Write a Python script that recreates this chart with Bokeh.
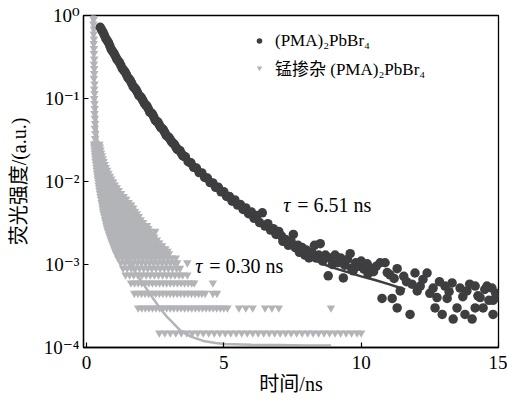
from bokeh.plotting import figure
from bokeh.models import (Range1d, FixedTicker, CustomJSTickFormatter, Label,
                          Legend, LegendItem)
from bokeh.embed import file_html
from bokeh.resources import INLINE

# ---------------- data ----------------
# (PMA)2PbBr4 : measured decay (time / ns, normalised intensity)
pma_x = [0.5, 0.55, 0.6, 0.65, 0.7, 0.75, 0.8, 0.85, 0.9, 0.95, 1.0, 1.05, 1.1, 1.15,
         1.2, 1.25, 1.3, 1.35, 1.4, 1.45, 1.5, 1.55, 1.6, 1.65, 1.7, 1.75, 1.8, 1.85,
         1.9, 1.95, 2.0, 2.05, 2.1, 2.15, 2.2, 2.25, 2.3, 2.35, 2.4, 2.45, 2.5, 2.55,
         2.6, 2.65, 2.7, 2.75, 2.8, 2.85, 2.9, 2.95, 3.0, 3.05, 3.1, 3.15, 3.2, 3.25,
         3.3, 3.35, 3.4, 3.45, 3.5, 3.55, 3.6, 3.7, 3.8, 3.9, 4.0, 4.1, 4.2, 4.3, 4.4,
         4.5, 4.6, 4.7, 4.8, 4.9, 5.0, 5.1, 5.2, 5.3, 5.4, 5.5, 5.6, 5.7, 5.8, 5.9,
         6.0, 6.1, 6.2, 6.3, 6.4, 6.5, 6.6, 6.7, 6.8, 6.9, 7.0,
         7.1, 7.15, 7.25, 7.35, 7.45, 7.53, 7.6, 7.7, 7.75, 7.85, 7.95, 8.0, 8.1, 8.2,
         8.3, 8.35, 8.45, 8.51, 8.6, 8.7, 8.8, 8.85, 8.95, 9.05, 9.15, 9.25, 9.35, 9.4,
         9.5, 9.6, 9.65, 9.71, 9.8, 9.9, 10.0, 10.1, 10.22, 10.25, 10.35, 10.45, 10.55,
         10.69, 10.76, 10.87, 10.95, 11.05, 11.13, 11.2, 11.31, 11.31, 11.42,
         11.55, 11.65, 11.78, 11.85, 11.96, 12.04, 12.15, 12.25, 12.4, 12.5, 12.62,
         12.69, 12.76, 12.85, 12.95, 13.05, 13.13, 13.2, 13.31, 13.35, 13.49, 13.6,
         13.7, 13.78, 13.85, 13.95, 14.04, 14.15, 14.15, 14.25, 14.33, 14.44, 14.5,
         14.58, 14.65, 14.76, 14.8, 14.8, 14.9, 15.0]
pma_y = [0.72, 0.67, 0.63, 0.58, 0.53, 0.50, 0.47, 0.43, 0.39, 0.37, 0.35, 0.325, 0.30,
         0.285, 0.27, 0.25, 0.23, 0.22, 0.21, 0.195, 0.18, 0.172, 0.163, 0.151, 0.139,
         0.134, 0.128, 0.119, 0.110, 0.106, 0.102, 0.095, 0.088, 0.084, 0.081, 0.075,
         0.069, 0.067, 0.065, 0.060, 0.055, 0.053, 0.052, 0.048, 0.045, 0.0435, 0.042,
         0.039, 0.036, 0.035, 0.034, 0.032, 0.030, 0.029, 0.028, 0.0262, 0.0245, 0.024,
         0.0235, 0.0219, 0.0205, 0.0201, 0.0198, 0.0173, 0.0168, 0.0148, 0.0145, 0.0128,
         0.0127, 0.0112, 0.0110, 0.0097, 0.0096, 0.0085, 0.0085, 0.0075, 0.0075, 0.0066,
         0.0066, 0.0058, 0.0060, 0.0052, 0.0053, 0.0046, 0.0048, 0.0041, 0.0043, 0.0036,
         0.0039, 0.0032, 0.0042, 0.0029, 0.0031, 0.0026, 0.0027, 0.0023, 0.0025,
         0.0022, 0.0019, 0.0020, 0.0017, 0.0019, 0.0023, 0.0016, 0.0017, 0.0014, 0.0016,
         0.0013, 0.0015, 0.0012, 0.0014, 0.0017, 0.0012, 0.0013, 0.00178, 0.0011, 0.0013,
         0.00073, 0.0012, 0.0010, 0.0013, 0.00105, 0.0012, 0.00069, 0.00098, 0.00115,
         0.00135, 0.0009, 0.00084, 0.00105, 0.00095, 0.0011, 0.00088, 0.00102, 0.00077,
         0.0009, 0.00082, 0.00095, 0.00105, 0.00039, 0.00105, 0.0008, 0.00075, 0.00039,
         0.00068, 0.00089, 0.00030, 0.00048,
         0.00072, 0.00062, 0.00025, 0.00058, 0.00079, 0.00048, 0.00055, 0.00066, 0.00079,
         0.00045, 0.00052, 0.0003, 0.0004, 0.00062, 0.00025, 0.00055, 0.00039, 0.00047,
         0.0006, 0.00022, 0.0003, 0.00052, 0.00041, 0.00025, 0.00048, 0.00058, 0.00022,
         0.00055, 0.0003, 0.00042, 0.0004, 0.0003, 0.0005, 0.00055, 0.00037, 0.00052,
         0.00025, 0.00037, 0.00045, 0.0004]

# (PMA)2PbBr4 : fitted curve (tau = 6.51 ns)
pma_fit_x = [0.5, 0.9, 1.3, 1.7, 2.1, 2.5, 2.9, 3.3, 3.7, 4.1, 4.5, 4.9, 5.3, 5.7,
             6.1, 6.5, 6.9, 7.3, 7.7, 8.1, 8.5, 8.9, 9.5, 10.0, 10.5, 11.0, 11.6]
pma_fit_y = [0.724, 0.398, 0.234, 0.141, 0.089, 0.0562, 0.0372, 0.0251, 0.0178,
             0.0132, 0.0100, 0.00776, 0.00603, 0.00479, 0.0038, 0.00302, 0.0024,
             0.00191, 0.00151, 0.00123, 0.00105, 0.00093, 0.00081, 0.00072, 0.00065,
             0.00058, 0.00050]

# Mn-doped (PMA)2PbBr4 : early, steep part of the decay
mn_col_x = [0.24, 0.25, 0.26, 0.25, 0.27, 0.26, 0.27, 0.26, 0.27, 0.27, 0.28, 0.27, 0.28,
            0.28, 0.27, 0.29, 0.28, 0.29, 0.28, 0.29, 0.30, 0.29, 0.30, 0.31, 0.30, 0.32,
            0.31, 0.33, 0.34]
mn_col_y = [1.15, 1.02, 0.90, 0.79, 0.69, 0.60, 0.52, 0.46, 0.40, 0.35, 0.30, 0.26, 0.23,
            0.20, 0.175, 0.15, 0.13, 0.115, 0.10, 0.087, 0.076, 0.066, 0.058, 0.05, 0.044,
            0.038, 0.033, 0.029, 0.026]

# Mn-doped (PMA)2PbBr4 : later part, one intensity per row
mn_row_y = [0.0282, 0.026, 0.024, 0.0221, 0.0204, 0.0188, 0.0174, 0.016, 0.0148, 0.0137,
            0.0126, 0.0116, 0.0107, 0.0099, 0.0091, 0.0084, 0.0078, 0.0072, 0.0066,
            0.0061, 0.0056, 0.0052, 0.0048, 0.0044, 0.0041, 0.0038, 0.00347, 0.0032,
            0.00295, 0.00272, 0.00251, 0.00232, 0.00214, 0.00197, 0.00182, 0.00168,
            0.00155, 0.00145, 0.00135, 0.0012, 0.00105, 0.0009, 0.00075, 0.0006, 0.00045,
            0.0003, 0.00015]
mn_row_x = [
    [0.27, 0.34, 0.41, 0.47],
    [0.28, 0.36, 0.43, 0.49],
    [0.29, 0.36, 0.44, 0.51],
    [0.30, 0.38, 0.46, 0.53],
    [0.31, 0.39, 0.47, 0.56],
    [0.32, 0.41, 0.50, 0.59],
    [0.33, 0.43, 0.52, 0.62],
    [0.35, 0.44, 0.53, 0.62, 0.66],
    [0.36, 0.45, 0.54, 0.62, 0.70],
    [0.37, 0.47, 0.57, 0.66, 0.75],
    [0.38, 0.48, 0.59, 0.69, 0.80],
    [0.40, 0.50, 0.60, 0.70, 0.80, 0.85],
    [0.41, 0.51, 0.61, 0.71, 0.81, 0.90],
    [0.43, 0.53, 0.63, 0.73, 0.83, 0.93, 0.97],
    [0.44, 0.54, 0.64, 0.74, 0.84, 0.94, 1.03],
    [0.46, 0.56, 0.66, 0.76, 0.86, 0.96, 1.06, 1.10],
    [0.47, 0.57, 0.67, 0.77, 0.87, 0.97, 1.07, 1.17],
    [0.49, 0.59, 0.69, 0.79, 0.89, 0.99, 1.09, 1.19, 1.26],
    [0.51, 0.61, 0.71, 0.81, 0.91, 1.01, 1.11, 1.21, 1.30, 1.35],
    [0.53, 0.64, 0.75, 0.86, 0.97, 1.08, 1.19, 1.30, 1.40, 1.44],
    [0.55, 0.66, 0.77, 0.88, 0.99, 1.10, 1.21, 1.32, 1.43, 1.53],
    [0.57, 0.68, 0.79, 0.90, 1.01, 1.12, 1.23, 1.34, 1.45, 1.56, 1.62],
    [0.58, 0.70, 0.82, 0.94, 1.06, 1.18, 1.30, 1.42, 1.54, 1.62, 1.70],
    [0.60, 0.72, 0.84, 0.96, 1.08, 1.20, 1.32, 1.44, 1.56, 1.68, 1.76],
    [0.62, 0.74, 0.86, 0.98, 1.10, 1.22, 1.34, 1.46, 1.58, 1.70, 1.83],
    [0.65, 0.77, 0.89, 1.01, 1.13, 1.25, 1.37, 1.49, 1.61, 1.73, 1.85, 1.90],
    [0.67, 0.80, 0.93, 1.06, 1.19, 1.32, 1.45, 1.58, 1.71, 1.84, 1.97],
    [0.70, 0.83, 0.96, 1.09, 1.22, 1.35, 1.48, 1.61, 1.74, 1.87, 1.98, 2.06],
    [0.72, 0.85, 0.98, 1.11, 1.24, 1.37, 1.50, 1.63, 1.76, 1.89, 2.01, 2.13, 2.20],
    [0.75, 0.88, 1.01, 1.14, 1.27, 1.40, 1.53, 1.66, 1.79, 1.92, 2.05, 2.15, 2.25],
    [0.78, 0.91, 1.04, 1.17, 1.30, 1.43, 1.56, 1.69, 1.82, 1.95, 2.08, 2.20, 2.30, 2.50],
    [0.82, 0.95, 1.08, 1.21, 1.34, 1.47, 1.60, 1.73, 1.86, 1.99, 2.12, 2.25, 2.35, 2.42],
    [0.85, 0.98, 1.11, 1.24, 1.37, 1.50, 1.63, 1.76, 1.89, 2.02, 2.15, 2.28, 2.38, 2.47],
    [0.89, 1.02, 1.15, 1.28, 1.41, 1.54, 1.67, 1.80, 1.93, 2.06, 2.19, 2.32, 2.45, 2.56],
    [0.93, 1.06, 1.19, 1.32, 1.45, 1.58, 1.71, 1.84, 1.97, 2.10, 2.23, 2.36, 2.49, 2.58,
     2.65],
    [0.97, 1.10, 1.23, 1.36, 1.49, 1.62, 1.75, 1.88, 2.01, 2.14, 2.27, 2.40, 2.53, 2.66,
     2.75],
    [1.01, 1.14, 1.27, 1.40, 1.53, 1.66, 1.79, 1.92, 2.05, 2.18, 2.31, 2.44, 2.57, 2.70,
     2.78, 2.87],
    [1.05, 1.18, 1.31, 1.44, 1.57, 1.70, 1.83, 1.96, 2.09, 2.22, 2.35, 2.48, 2.61, 2.74,
     2.85, 2.95],
    [1.08, 1.21, 1.34, 1.47, 1.60, 1.73, 1.86, 1.99, 2.12, 2.25, 2.38, 2.51, 2.64, 2.77,
     2.90, 3.00],
    [1.15, 1.30, 1.45, 1.60, 1.75, 1.90, 2.05, 2.20, 2.35, 2.50, 2.65, 2.80, 2.95, 3.10,
     3.25],
    [1.25, 1.40, 1.55, 1.70, 1.85, 2.00, 2.15, 2.30, 2.45, 2.60, 2.75, 2.90, 3.05, 3.20,
     3.30, 3.67],
    [1.33, 1.48, 1.63, 1.78, 1.93, 2.08, 2.23, 2.38, 2.53, 2.68, 2.83, 2.98, 3.13, 3.28,
     3.40],
    [1.42, 1.57, 1.72, 1.87, 2.02, 2.17, 2.32, 2.47, 2.62, 2.77, 2.92, 3.07, 3.22, 3.37,
     3.50, 3.67],
    [1.62, 1.75, 1.88, 2.01, 2.14, 2.27, 2.40, 2.53, 2.66, 2.79, 2.92, 3.05, 3.18, 3.31,
     3.44, 3.57, 3.70, 3.83, 3.92, 4.60],
    [1.74, 1.87, 2.00, 2.13, 2.26, 2.39, 2.52, 2.65, 2.78, 2.91, 3.04, 3.17, 3.30, 3.43,
     3.56, 3.69, 3.82, 3.95, 4.08, 4.20, 4.32, 4.60, 4.75],
    [1.88, 2.01, 2.14, 2.27, 2.40, 2.53, 2.66, 2.79, 2.92, 3.05, 3.18, 3.31, 3.44, 3.57,
     3.70, 3.83, 3.96, 4.09, 4.22, 4.35, 4.48, 4.61, 4.74, 4.87, 5.00, 5.13, 5.55, 5.80,
     6.05, 6.50, 6.75, 7.00, 8.90],
    [2.65, 2.85, 3.05, 3.25, 3.45, 3.65, 3.85, 4.05, 4.25, 4.45, 4.65, 4.85, 5.05, 5.25,
     5.45, 5.65, 5.85, 6.05, 6.25, 6.45, 6.65, 6.85, 7.05, 7.25, 7.45, 7.65, 7.85, 8.05,
     8.25, 8.45, 8.65, 8.85, 9.05, 9.25, 9.45, 9.65, 9.85, 10.0],
]

# Mn-doped (PMA)2PbBr4 : fitted curve (tau = 0.30 ns)
mn_fit_x = [0.22, 0.3, 0.4, 0.5, 0.7, 1.0, 1.4, 1.8, 2.1, 2.4, 2.7, 2.95, 3.2, 3.42,
            3.8, 4.25, 4.7, 5.05, 6.0, 7.0, 8.0, 8.9]
mn_fit_y = [1.0, 0.12, 0.03, 0.012, 0.005, 0.0025, 0.0013, 0.00078, 0.00056, 0.00040,
            0.00029, 0.00023, 0.00019, 0.00016, 0.000135, 0.00012, 0.000113, 0.00011,
            0.000108, 0.000107, 0.000106, 0.000106]

x_ticks = [0, 5, 10, 15]
y_ticks = [1e-4, 1e-3, 1e-2, 1e-1, 1]
series_labels = ["(PMA)\u2082PbBr\u2084", "锰掺杂 (PMA)\u2082PbBr\u2084"]
tau_labels = ["= 6.51 ns", "= 0.30 ns"]
x_label = "时间/ns"
y_label = "荧光强度/(a.u.)"

# ---------------- styles ----------------
DARK = "#3e3e40"
GRAY = "#b3b4b7"
SERIF = "Liberation Serif, DejaVu Serif, Noto Sans CJK SC"

mn_x, mn_y = list(mn_col_x), list(mn_col_y)
for yy, xs in zip(mn_row_y, mn_row_x):
    mn_x.extend(xs)
    mn_y.extend([yy] * len(xs))

p = figure(width=507, height=401, y_axis_type="log",
           x_range=Range1d(-0.11, 15), y_range=Range1d(1e-4, 1),
           output_backend="svg", toolbar_location=None,
           min_border_left=83, min_border_right=9, min_border_top=15,
           min_border_bottom=54)
p.grid.visible = False
p.outline_line_color = "black"
p.outline_line_width = 1.3
p.background_fill_color = "white"
p.border_fill_color = "white"

for ax in (p.xaxis[0], p.yaxis[0]):
    ax.axis_line_width = 1.3
    ax.axis_line_color = "black"
    ax.major_tick_in = 5
    ax.major_tick_out = 0
    ax.minor_tick_in = 0
    ax.minor_tick_out = 0
    ax.major_tick_line_width = 1.2
    ax.major_label_text_font = SERIF
    ax.major_label_text_font_size = "19px"
    ax.major_label_text_color = "black"
    ax.axis_label_text_font = SERIF
    ax.axis_label_text_font_style = "normal"
    ax.axis_label_text_color = "black"
    ax.axis_label_text_font_size = "20px"

p.xaxis.ticker = FixedTicker(ticks=x_ticks)
p.yaxis.ticker = FixedTicker(ticks=y_ticks)
p.yaxis.formatter = CustomJSTickFormatter(code="""
const e = Math.round(Math.log10(tick));
const sup = {'-':'\u207b','0':'\u2070','1':'\u00b9','2':'\u00b2','3':'\u00b3',
             '4':'\u2074','5':'\u2075','6':'\u2076','7':'\u2077','8':'\u2078','9':'\u2079'};
return '10' + String(e).split('').map(c => sup[c]).join('');
""")
p.xaxis.axis_label = x_label
p.yaxis.axis_label = y_label
p.xaxis.major_label_standoff = 8
p.xaxis.axis_label_standoff = 1
p.yaxis.major_label_standoff = 4
p.yaxis.axis_label_standoff = 11

# marks
r_mn = p.scatter(mn_x, mn_y, marker="inverted_triangle", size=8.5, color=GRAY,
                 line_width=0)
p.line(mn_fit_x, mn_fit_y, line_color=GRAY, line_width=2.5)
r_pma = p.scatter(pma_x, pma_y, marker="circle", size=9.5, color=DARK, line_width=0)
p.line(pma_fit_x, pma_fit_y, line_color=DARK, line_width=2.5)

legend = Legend(items=[LegendItem(label=series_labels[0], renderers=[r_pma]),
                       LegendItem(label=series_labels[1], renderers=[r_mn])],
                location=(169, 266), orientation="vertical",
                background_fill_alpha=0, border_line_alpha=0, padding=0, margin=0,
                spacing=0, glyph_width=14, glyph_height=27, label_height=27,
                label_standoff=9, label_text_font=SERIF, label_text_font_size="17px",
                label_text_color="black")
p.add_layout(legend)

# tau annotations
for (tx, ty, txt) in [(7.16, 5.17e-3, tau_labels[0]), (3.96, 9.6e-4, tau_labels[1])]:
    p.add_layout(Label(x=tx, y=ty, text="\u03c4", text_font=SERIF,
                       text_font_style="italic", text_font_size="20px",
                       text_baseline="alphabetic", text_color="black"))
    p.add_layout(Label(x=tx, y=ty, x_offset=14, text=txt, text_font=SERIF,
                       text_font_size="20px", text_baseline="alphabetic",
                       text_color="black"))

open("out.html", "w").write(file_html(p, INLINE))
